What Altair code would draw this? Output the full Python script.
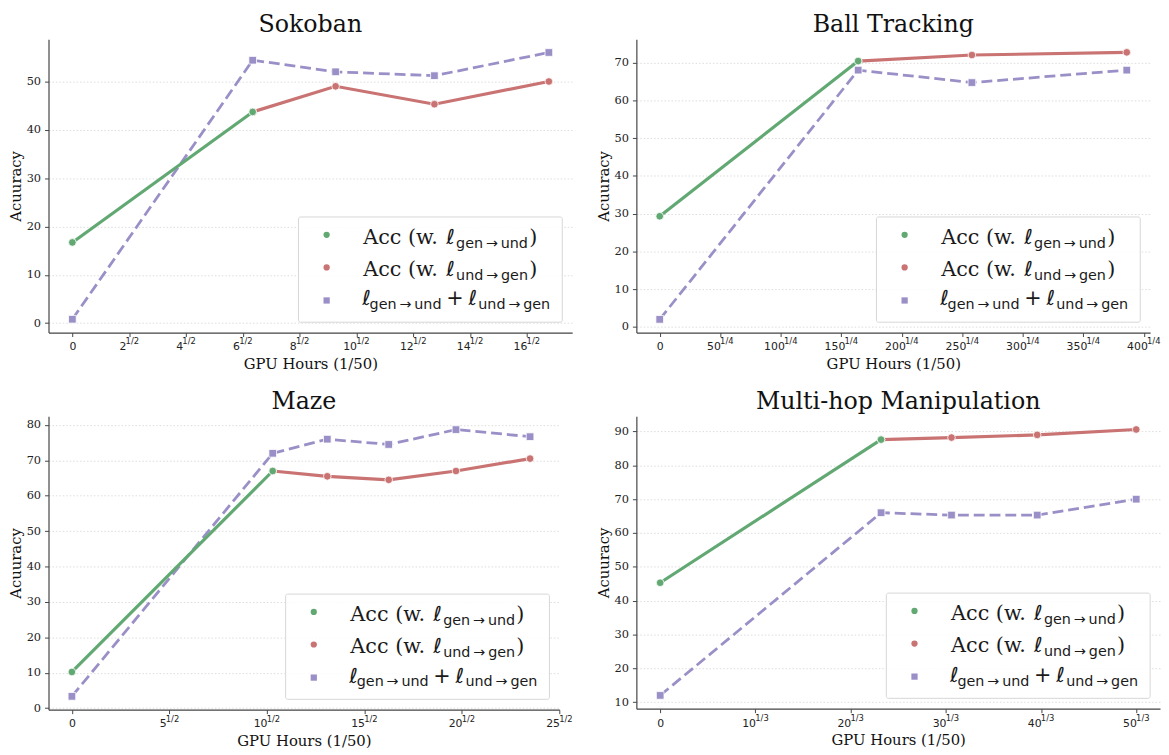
import altair as alt
import pandas as pd

# ---------------- data ----------------
SERIES = ["Acc (w. gen->und)", "Acc (w. und->gen)", "gen->und + und->gen"]

sok_gx = [0, 6.35];                        sok_gy = [16.7, 43.7]
sok_rx = [6.35, 9.27, 12.75, 16.78];       sok_ry = [43.7, 49.0, 45.3, 50.0]
sok_px = [0, 6.35, 9.27, 12.75, 16.78];    sok_py = [0.8, 54.4, 52.0, 51.2, 56.0]

bal_gx = [0, 164];                         bal_gy = [29.3, 70.4]
bal_rx = [164, 258, 386];                  bal_ry = [70.4, 72.0, 72.7]
bal_px = [0, 164, 258, 386];               bal_py = [2.0, 68.0, 64.7, 68.0]

maz_gx = [0, 10.3];                        maz_gy = [10.2, 67.0]
maz_rx = [10.3, 13.1, 16.25, 19.7, 23.5];  maz_ry = [67.0, 65.5, 64.5, 67.0, 70.5]
maz_px = [0, 10.3, 13.1, 16.25, 19.7, 23.5]; maz_py = [3.3, 72.0, 76.0, 74.5, 78.7, 76.7]

mul_gx = [0, 23.2];                        mul_gy = [45.3, 87.6]
mul_rx = [23.2, 30.6, 39.6, 50.0];         mul_ry = [87.6, 88.2, 89.0, 90.6]
mul_px = [0, 23.2, 30.6, 39.6, 50.0];      mul_py = [12.0, 66.0, 65.3, 65.3, 70.0]

sok_xticks = [0, 2, 4, 6, 8, 10, 12, 14, 16]
bal_xticks = [0, 50, 100, 150, 200, 250, 300, 350, 400]
maz_xticks = [0, 5, 10, 15, 20, 25]
mul_xticks = [0, 10, 20, 30, 40, 50]
sok_yticks = [0, 10, 20, 30, 40, 50]
bal_yticks = [0, 10, 20, 30, 40, 50, 60, 70]
maz_yticks = [0, 10, 20, 30, 40, 50, 60, 70, 80]
mul_yticks = [10, 20, 30, 40, 50, 60, 70, 80, 90]

GREEN, RED, PURPLE = "#62a873", "#c97373", "#9b8fc7"
SERIF = "DejaVu Serif"
SANS = "DejaVu Sans"
ONE = pd.DataFrame({"k": [0]})

XLAB_SIZE = 11         # x tick label font (sans, like mathtext)
SUP_SIZE = 8.5         # superscript font
SUP_W = SUP_SIZE * (0.636 * 2 + 0.337)   # approx width of "1/2"
DIG_W = XLAB_SIZE * 0.636


def txt(s, x, y, font=SERIF, size=21, style="normal"):
    return alt.Chart(ONE).mark_text(
        text=s, align="left", baseline="alphabetic", font=font,
        fontSize=size, fontStyle=style, color="#1a1a1a"
    ).encode(x=alt.value(x), y=alt.value(y))


def legend_layers(W, H):
    x0, x1 = W - 277, W - 10
    y0, y1 = H - 117, H - 10.5
    layers = [alt.Chart(ONE).mark_rect(
        fill="white", fillOpacity=0.85, stroke="#d6d6d6", strokeWidth=1,
        cornerRadius=2).encode(x=alt.value(x0), x2=alt.value(x1),
                               y=alt.value(y0), y2=alt.value(y1))]
    rows = [y0 + 18, y0 + 51, y0 + 84.5]
    mx = x0 + 28.5
    for cy, col, shape in zip(rows, [GREEN, RED, PURPLE], ["circle", "circle", "square"]):
        layers.append(alt.Chart(ONE).mark_point(
            filled=True, shape=shape, size=40, fill=col, opacity=1,
            strokeWidth=0).encode(x=alt.value(mx), y=alt.value(cy)))
    sub_g = "gen\u2009\u2192\u2009und"
    sub_u = "und\u2009\u2192\u2009gen"
    for cy, sub in zip(rows[:2], [sub_g, sub_u]):
        b = cy + 9
        layers += [
            txt("Acc (w.", x0 + 65.5, b),
            txt("\u2113", x0 + 149.5, b, font=SANS, size=21, style="italic"),
            txt(sub, x0 + 159.5, b + 4, font=SANS, size=14.5),
            txt(")", x0 + 233.5, b),
        ]
    b = rows[2] + 5
    layers += [
        txt("\u2113", x0 + 64.5, b, font=SANS, size=21, style="italic"),
        txt(sub_g, x0 + 72, b + 4, font=SANS, size=14.5),
        txt("+", x0 + 149.5, b, font=SANS, size=21),
        txt("\u2113", x0 + 172, b, font=SANS, size=21, style="italic"),
        txt(sub_u, x0 + 182, b + 4, font=SANS, size=14.5),
    ]
    return layers


def panel(title, gx, gy, rx, ry, px, py, xdom, xticks, sup, ydom, yticks, W, H):
    xenc = alt.X("x:Q", scale=alt.Scale(domain=xdom, nice=False, zero=False),
                 axis=alt.Axis(values=xticks, grid=False, title="GPU Hours (1/50)",
                               labelFont=SANS, labelFontSize=XLAB_SIZE, labelFlush=False,
                               labelOffset={"condition": {"test": "datum.value == 0", "value": 0},
                                            "value": -SUP_W / 2}))
    yenc = alt.Y("y:Q", scale=alt.Scale(domain=ydom, nice=False, zero=False),
                 axis=alt.Axis(values=yticks, grid=True, title="Acuuracy"))

    def df(xs, ys, name):
        return pd.DataFrame({"x": xs, "y": ys, "series": name})

    dg, dr, dp = df(gx, gy, SERIES[0]), df(rx, ry, SERIES[1]), df(px, py, SERIES[2])
    layers = [
        alt.Chart(dp).mark_line(color=PURPLE, strokeWidth=2.8, strokeDash=[11, 5]).encode(x=xenc, y=yenc),
        alt.Chart(dp).mark_point(filled=True, shape="square", size=60, fill=PURPLE,
                                 stroke="white", strokeWidth=0.8, opacity=1).encode(x=xenc, y=yenc),
        alt.Chart(dr).mark_line(color=RED, strokeWidth=3.2).encode(x=xenc, y=yenc),
        alt.Chart(dr).mark_point(filled=True, shape="circle", size=60, fill=RED,
                                 stroke="white", strokeWidth=0.8, opacity=1).encode(x=xenc, y=yenc),
        alt.Chart(dg).mark_line(color=GREEN, strokeWidth=3.2).encode(x=xenc, y=yenc),
        alt.Chart(dg).mark_point(filled=True, shape="circle", size=60, fill=GREEN,
                                 stroke="white", strokeWidth=0.8, opacity=1).encode(x=xenc, y=yenc),
    ]
    # superscripts of the x tick labels ("n^{1/k}"), positioned on the x scale
    tick_df = pd.DataFrame({"x": [t for t in xticks if t != 0],
                            "nd": [len(str(t)) for t in xticks if t != 0]})
    for nd in sorted(set(tick_df["nd"])):
        layers.append(
            alt.Chart(tick_df).transform_filter(f"datum.nd == {nd}").mark_text(
                text=sup, align="left", baseline="alphabetic", font=SANS,
                fontSize=SUP_SIZE, color="#222",
                dx=-SUP_W / 2 + nd * DIG_W / 2 - 0.3).encode(x=xenc, y=alt.value(H + 12)))
    layers += legend_layers(W, H)
    return alt.layer(*layers).properties(
        width=W, height=H,
        title=alt.TitleParams(title, font=SERIF, fontSize=24, fontWeight="normal",
                              color="#111", anchor="middle", offset=2.3))


p1 = panel("Sokoban", sok_gx, sok_gy, sok_rx, sok_ry, sok_px, sok_py,
           [-0.84, 17.6], sok_xticks, "1/2", [-1.96, 58.76], sok_yticks, 530, 297)
p2 = panel("Ball Tracking", bal_gx, bal_gy, bal_rx, bal_ry, bal_px, bal_py,
           [-19.3, 405.3], bal_xticks, "1/4", [-1.5, 76.2], bal_yticks, 520, 297)
p3 = panel("Maze", maz_gx, maz_gy, maz_rx, maz_ry, maz_px, maz_py,
           [-1.2, 25.0], maz_xticks, "1/2", [-0.47, 82.47], maz_yticks, 517, 297)
p4 = panel("Multi-hop Manipulation", mul_gx, mul_gy, mul_rx, mul_ry, mul_px, mul_py,
           [-2.5, 52.5], mul_xticks, "1/3", [8.07, 94.5], mul_yticks, 530, 296)

chart = alt.vconcat(
    alt.hconcat(p1, p2, spacing=24),
    alt.hconcat(p3, p4, spacing=23),
    spacing=17.7,
).configure_view(stroke=None).configure_axis(
    labelFont=SERIF, labelFontSize=11.5, labelColor="#222",
    titleFont=SERIF, titleFontSize=15, titleFontWeight="normal", titleColor="#111",
    domainColor="#444", domainWidth=1.2, tickColor="#444", tickSize=4, tickWidth=1,
    gridColor="#d4d4d4", gridDash=[1.5, 2], gridWidth=0.8,
).configure_axisX(labelPadding=4.5, titlePadding=5).configure_axisY(
    labelPadding=4, titlePadding=3
).properties(background="white", padding=0)

chart.save("out.html", embed_options={"renderer": "svg", "actions": False})
